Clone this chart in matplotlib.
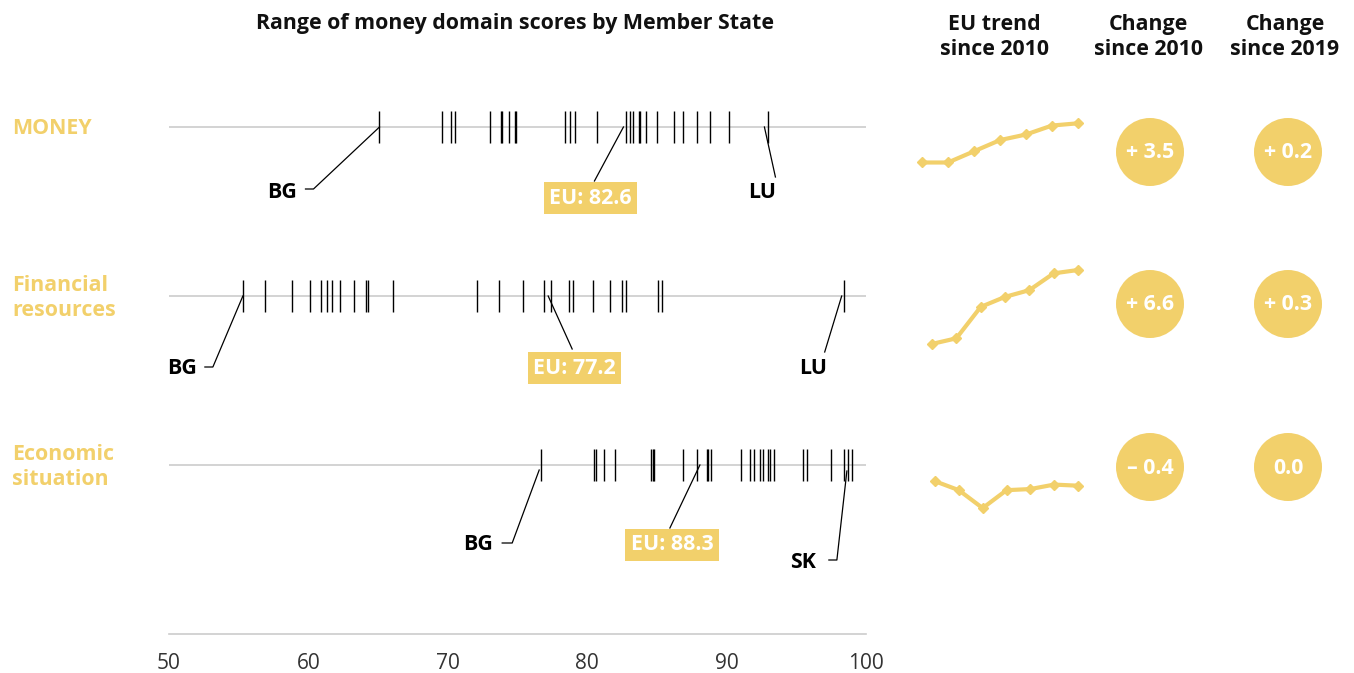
import matplotlib.pyplot as plt
from matplotlib.patches import Circle
from matplotlib.lines import Line2D
from matplotlib.transforms import IdentityTransform

plt.rcParams['font.family'] = ['Open Sans', 'DejaVu Sans']

# scores by Member State, one list per row
money = [65.1, 69.6, 70.2, 70.5, 73.0, 73.8, 73.9, 74.4, 74.8, 74.9, 78.4, 78.8, 79.1,
         80.7, 82.8, 83.1, 83.3, 83.7, 83.8, 84.2, 85.0, 86.2, 86.9, 87.9, 88.8, 90.2, 93.0]
financial = [55.3, 56.9, 58.8, 60.1, 60.9, 61.3, 61.7, 62.3, 63.3, 64.1, 64.3, 66.1, 72.1,
             73.7, 75.4, 76.9, 77.4, 78.7, 79.0, 80.4, 81.6, 82.5, 82.8, 85.1, 85.4, 98.4]
economic = [76.7, 80.5, 80.6, 81.2, 82.0, 84.6, 84.7, 84.8, 86.9, 87.9, 88.6, 88.7, 88.9,
            91.0, 91.7, 92.0, 92.4, 92.6, 93.0, 93.1, 93.4, 95.5, 95.8, 97.5, 98.4, 98.7, 99.0]

row_names = ["MONEY", "Financial\nresources", "Economic\nsituation"]
eu_scores = [82.6, 77.2, 88.3]
low_names = ["BG", "BG", "BG"]
low_vals = [65.1, 55.3, 76.7]
high_names = ["LU", "LU", "SK"]
high_vals = [93.0, 98.4, 98.7]

# EU trend since 2010
trend_money = [79.1, 79.1, 80.1, 81.1, 81.6, 82.4, 82.6]
trend_financial = [70.6, 71.1, 73.9, 74.8, 75.4, 76.9, 77.2]
trend_economic = [88.7, 87.9, 86.3, 87.9, 88.0, 88.4, 88.3]
change_2010 = [3.5, 6.6, -0.4]
change_2019 = [0.2, 0.3, 0.0]

x_ticks = [50, 60, 70, 80, 90, 100]

yellow = '#F2D06B'
W, H = 1354, 673
fig = plt.figure(figsize=(W / 100, H / 100), dpi=100)
FS = 15.4

# main strip axes: 50..100 -> px 169..866, y 0 at px 634, 1 unit = 169 px
ax = fig.add_axes([169 / W, 1 - 634 / H, (866 - 169) / W, 3.5 * 169 / H])
ax.set_xlim(50, 100)
ax.set_ylim(0, 3.5)
ax.patch.set_visible(False)
for s in ['top', 'right', 'left']:
    ax.spines[s].set_visible(False)
ax.spines['bottom'].set_color('#cccccc')
ax.spines['bottom'].set_linewidth(1.2)
ax.set_yticks([])
ax.set_xticks(x_ticks)
ax.tick_params(axis='x', length=0, pad=14, labelsize=15, labelcolor='#333333')

rows = [money, financial, economic]
row_y = [3, 2, 1]

# label layout, pixel offsets from the marked tick (y up)
low_text = [(-82, -65), (-46, -73), (-48, -80)]
low_lead = [[(-74, -62), (-66, -62), (0, 0)],
            [(-38, -71), (-30, -71), (0, 0)],
            [(-39, -78), (-29, -78), (-2, -5)]]
eu_text = [(-33, -71), (26, -72), (-31, -80)]
eu_lead = [[(-29, -54), (0, 0)], [(24, -53), (0, 0)], [(-33, -63), (-3, 0)]]
high_text = [(-6, -66), (-31, -73), (-45, -97)]
high_lead = [[(7, -50), (-4, 0)], [(-19, -56), (-2, 0)],
             [(-19, -95), (-11, -95), (-1, -6)]]


def to_px(val, y):
    return ax.transData.transform((val, y))


def leader(val, y, pts):
    px, py = to_px(val, y)
    fig.add_artist(Line2D([px + p[0] for p in pts], [py + p[1] for p in pts],
                          transform=IdentityTransform(), color='black', lw=0.9))


def label(val, y, off, txt, ha, **kw):
    px, py = to_px(val, y)
    fig.text(px + off[0], py + off[1], txt, transform=IdentityTransform(),
             ha=ha, va='center', fontsize=FS, fontweight='bold', **kw)


for i, vals in enumerate(rows):
    y = row_y[i]
    ax.plot([50, 100], [y, y], color='#d0d0d0', lw=1.3, zorder=1)
    ax.vlines(vals, y - 0.095, y + 0.095, color='black', lw=1.0, zorder=2)
    leader(low_vals[i], y, low_lead[i])
    label(low_vals[i], y, low_text[i], low_names[i], 'right')
    leader(high_vals[i], y, high_lead[i])
    label(high_vals[i], y, high_text[i], high_names[i], 'center')
    leader(eu_scores[i], y, eu_lead[i])
    label(eu_scores[i], y, eu_text[i], 'EU: %.1f' % eu_scores[i], 'center', color='white',
          bbox=dict(boxstyle='square,pad=0.25', fc=yellow, ec='none'))

# overlay in pixel coordinates for headers, row names and circles
ov = fig.add_axes([0, 0, 1, 1], zorder=-1)
ov.set_xlim(0, W)
ov.set_ylim(H, 0)
ov.axis('off')

ov.text(515, 24, "Range of money domain scores by Member State", ha='center', va='center',
        fontsize=FS, fontweight='bold', color='#111111')
for xc, txt in [(994, "EU trend\nsince 2010"), (1148, "Change\nsince 2010"),
                (1285, "Change\nsince 2019")]:
    ov.text(xc, 37, txt, ha='center', va='center', fontsize=FS, fontweight='bold',
            color='#111111', linespacing=1.2)

name_y = [129, 298, 467]
for i, name in enumerate(row_names):
    ov.text(12, name_y[i], name, ha='left', va='center', fontsize=FS, fontweight='bold',
            color=yellow, linespacing=1.2)


def fmt(v):
    v = round(v, 1)
    if v > 0:
        return '+ %.1f' % v
    if v < 0:
        return '\u2013 %.1f' % abs(v)
    return '0.0'


circle_y = [152, 304, 467]
for i in range(3):
    for xc, v in [(1150, change_2010[i]), (1288, change_2019[i])]:
        ov.add_patch(Circle((xc, circle_y[i]), 34, fc=yellow, ec='none'))
        ov.text(xc, circle_y[i] + 1, fmt(v), ha='center', va='center', fontsize=FS,
                fontweight='bold', color='white')

# sparklines, same vertical scale (11.2 px per point) on every row
trends = [trend_money, trend_financial, trend_economic]
spark_left = [922, 932, 935]
spark_right = 1078
last_py = [123.3, 270, 485.7]
scale = 11.2
half = 60
for i, tr in enumerate(trends):
    top = last_py[i] - half
    sa = fig.add_axes([spark_left[i] / W, 1 - (top + 2 * half) / H,
                       (spark_right - spark_left[i]) / W, 2 * half / H])
    sa.plot(range(len(tr)), tr, color=yellow, lw=3, marker='D', ms=5.5,
            solid_capstyle='round', clip_on=False)
    sa.set_xlim(0, len(tr) - 1)
    sa.set_ylim(tr[-1] - half / scale, tr[-1] + half / scale)
    sa.axis('off')

fig.savefig('out.png', dpi=100)
